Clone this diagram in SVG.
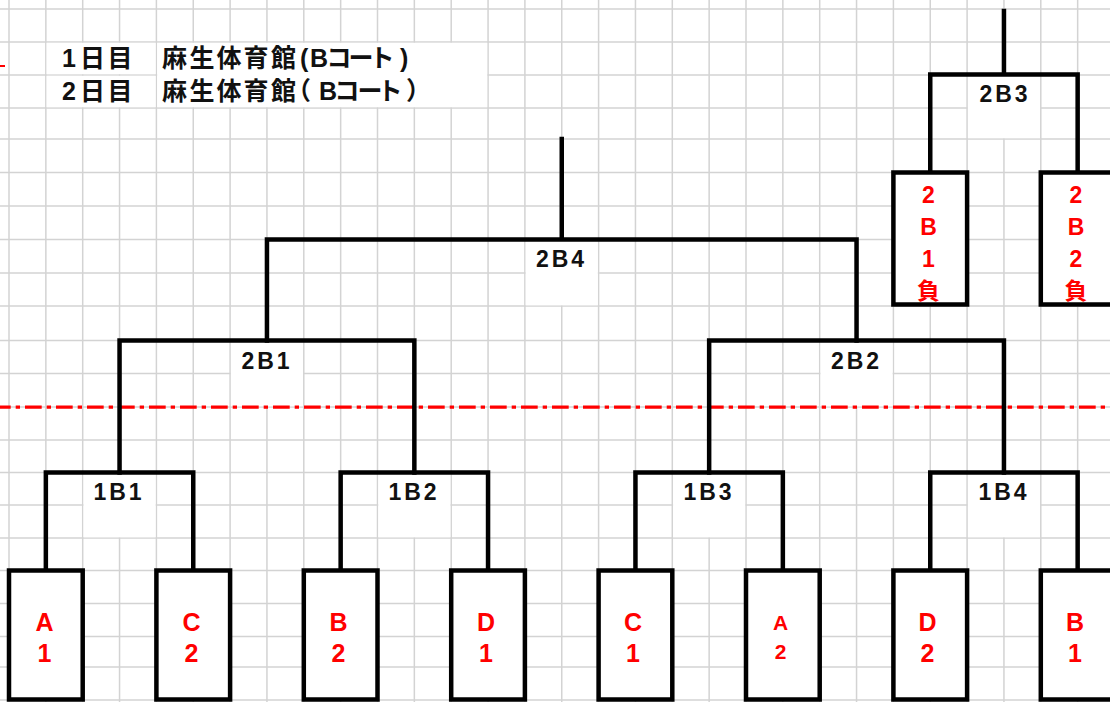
<svg xmlns="http://www.w3.org/2000/svg" width="1110" height="702" viewBox="0 0 1110 702">
<style>
.g{stroke:#d3d3d3;stroke-width:1.5;fill:none}
.cell{fill:#fff;stroke:none}
.br{stroke:#000;stroke-width:4.5;fill:none;stroke-linecap:square}
.box{fill:#fff;stroke:#000;stroke-width:4.5}
.lbl{font-family:"Liberation Sans","Noto Sans CJK JP",sans-serif;font-weight:bold;font-size:23px;letter-spacing:3px;fill:#111;text-anchor:middle}
.rt{font-family:"Liberation Sans","Noto Sans CJK JP",sans-serif;font-weight:bold;font-size:25px;fill:#ff0000;text-anchor:middle}
.rt2{font-family:"Liberation Sans","Noto Sans CJK JP",sans-serif;font-weight:bold;font-size:23px;fill:#ff0000;text-anchor:middle}
.hd{font-family:"Liberation Sans","Noto Sans CJK JP",sans-serif;font-weight:bold;font-size:25px;fill:#111}
</style>
<rect x="0" y="0" width="1110" height="702" fill="#fff"/>
<g id="grid">
<path class="g" d="M9 0V702M45.85 0V702M82.7 0V702M119.55 0V702M156.4 0V702M193.25 0V702M230.1 0V702M266.95 0V702M303.8 0V702M340.65 0V702M377.5 0V702M414.35 0V702M451.2 0V702M488.05 0V702M524.9 0V702M561.75 0V702M598.6 0V702M635.45 0V702M672.3 0V702M709.15 0V702M746 0V702M782.85 0V702M819.7 0V702M856.55 0V702M893.4 0V702M930.25 0V702M967.1 0V702M1003.95 0V702M1040.8 0V702M1077.65 0V702"/>
<path class="g" d="M0 9H1110M0 42H1110M0 75H1110M0 108H1110M0 139H1110M0 172.5H1110M0 206H1110M0 239.5H1110M0 273H1110M0 306H1110M0 340.5H1110M0 373.5H1110M0 407H1110M0 440H1110M0 472.5H1110M0 505H1110M0 538H1110M0 570.5H1110M0 603.5H1110M0 636.5H1110M0 667H1110M0 700H1110"/>
<rect class="cell" x="46.6" y="42.8" width="109" height="31.4"/>
<rect class="cell" x="46.6" y="75.8" width="109" height="31.4"/>
<rect class="cell" x="157.2" y="42.8" width="330" height="64.4"/>
<rect class="cell" x="967.9" y="75.8" width="72.1" height="62.4"/>
<rect class="cell" x="525.7" y="240.3" width="72.1" height="65"/>
<rect class="cell" x="230.9" y="341.3" width="72.1" height="65"/>
<rect class="cell" x="820.5" y="341.3" width="72.1" height="65"/>
<rect class="cell" x="83.5" y="473.3" width="72.1" height="64"/>
<rect class="cell" x="378.3" y="473.3" width="72.1" height="64"/>
<rect class="cell" x="673.1" y="473.3" width="72.1" height="64"/>
<rect class="cell" x="967.9" y="473.3" width="72.1" height="64"/>
</g>
<g id="marks">
<path d="M0 66H5" stroke="#ff0000" stroke-width="2"/>
<path d="M0 407.2H1110" stroke="#ff0000" stroke-width="3.3" stroke-dasharray="16.7 5 4.3 5" stroke-dashoffset="6"/>
</g>
<g id="header">
<text class="hd" x="62 80 107.5" y="67">1日目</text>
<text class="hd" x="162 189.5 216.5 243.5 271 300 310 326.5 348.5 369.5 400" y="67">麻生体育館(Bコート)</text>
<text class="hd" x="62 80 107.5" y="100">2日目</text>
<text class="hd" x="162 189.5 216.5 243.5 271 286 319 334.5 357.5 377.5 406" y="100">麻生体育館（Bコート）</text>
</g>
<g id="connectors">
<path class="br" d="M1003.95 11V74.5M930.25 172.5V74.5H1077.65V172.5"/>
<path class="br" d="M561.75 139V239.5M266.95 340.5V239.5H856.55V340.5"/>
<path class="br" d="M119.55 472.5V340.5H414.35V472.5"/>
<path class="br" d="M709.15 472.5V340.5H1003.95V472.5"/>
<path class="br" d="M45.85 570.5V472.5H193.25V570.5"/>
<path class="br" d="M340.65 570.5V472.5H488.05V570.5"/>
<path class="br" d="M635.45 570.5V472.5H782.85V570.5"/>
<path class="br" d="M930.25 570.5V472.5H1077.65V570.5"/>
</g>
<g id="m2B3"><text class="lbl" x="1005" y="102">2B3</text></g>
<g id="m2B4"><text class="lbl" x="561.5" y="266.7">2B4</text></g>
<g id="m2B1"><text class="lbl" x="267" y="368.8">2B1</text></g>
<g id="m2B2"><text class="lbl" x="856.5" y="368.5">2B2</text></g>
<g id="m1B1"><text class="lbl" x="119" y="500">1B1</text></g>
<g id="m1B2"><text class="lbl" x="414" y="500">1B2</text></g>
<g id="m1B3"><text class="lbl" x="709" y="500">1B3</text></g>
<g id="m1B4"><text class="lbl" x="1004" y="500">1B4</text></g>
<g id="l2B1">
<rect class="box" x="893.4" y="172.5" width="73.7" height="132"/>
<text class="rt2" x="928.5" y="203.2">2</text><text class="rt2" x="928.5" y="235">B</text><text class="rt2" x="928.5" y="266.5">1</text><text class="rt2" x="928.5" y="298.7">負</text>
</g>
<g id="l2B2">
<rect class="box" x="1040.8" y="172.5" width="73.7" height="132"/>
<text class="rt2" x="1076" y="203.2">2</text><text class="rt2" x="1076" y="235">B</text><text class="rt2" x="1076" y="266.5">2</text><text class="rt2" x="1076" y="298.7">負</text>
</g>
<g id="tA1"><rect class="box" x="9" y="570.5" width="73.7" height="129"/><text class="rt" x="44.5" y="630.5">A</text><text class="rt" x="44.5" y="661.5">1</text></g>
<g id="tC2"><rect class="box" x="156.4" y="570.5" width="73.7" height="129"/><text class="rt" x="191.5" y="630.5">C</text><text class="rt" x="191.5" y="661.5">2</text></g>
<g id="tB2"><rect class="box" x="303.8" y="570.5" width="73.7" height="129"/><text class="rt" x="338.5" y="630.5">B</text><text class="rt" x="338.5" y="661.5">2</text></g>
<g id="tD1"><rect class="box" x="451.2" y="570.5" width="73.7" height="129"/><text class="rt" x="486" y="630.5">D</text><text class="rt" x="486" y="661.5">1</text></g>
<g id="tC1"><rect class="box" x="598.6" y="570.5" width="73.7" height="129"/><text class="rt" x="633" y="630.5">C</text><text class="rt" x="633" y="661.5">1</text></g>
<g id="tA2"><rect class="box" x="746" y="570.5" width="73.7" height="129"/><text class="rt" x="780.5" y="630" style="font-size:21px">A</text><text class="rt" x="780.5" y="659" style="font-size:21px">2</text></g>
<g id="tD2"><rect class="box" x="893.4" y="570.5" width="73.7" height="129"/><text class="rt" x="927.5" y="630.5">D</text><text class="rt" x="927.5" y="661.5">2</text></g>
<g id="tB1"><rect class="box" x="1040.8" y="570.5" width="73.7" height="129"/><text class="rt" x="1075" y="630.5">B</text><text class="rt" x="1075" y="661.5">1</text></g>
</svg>
